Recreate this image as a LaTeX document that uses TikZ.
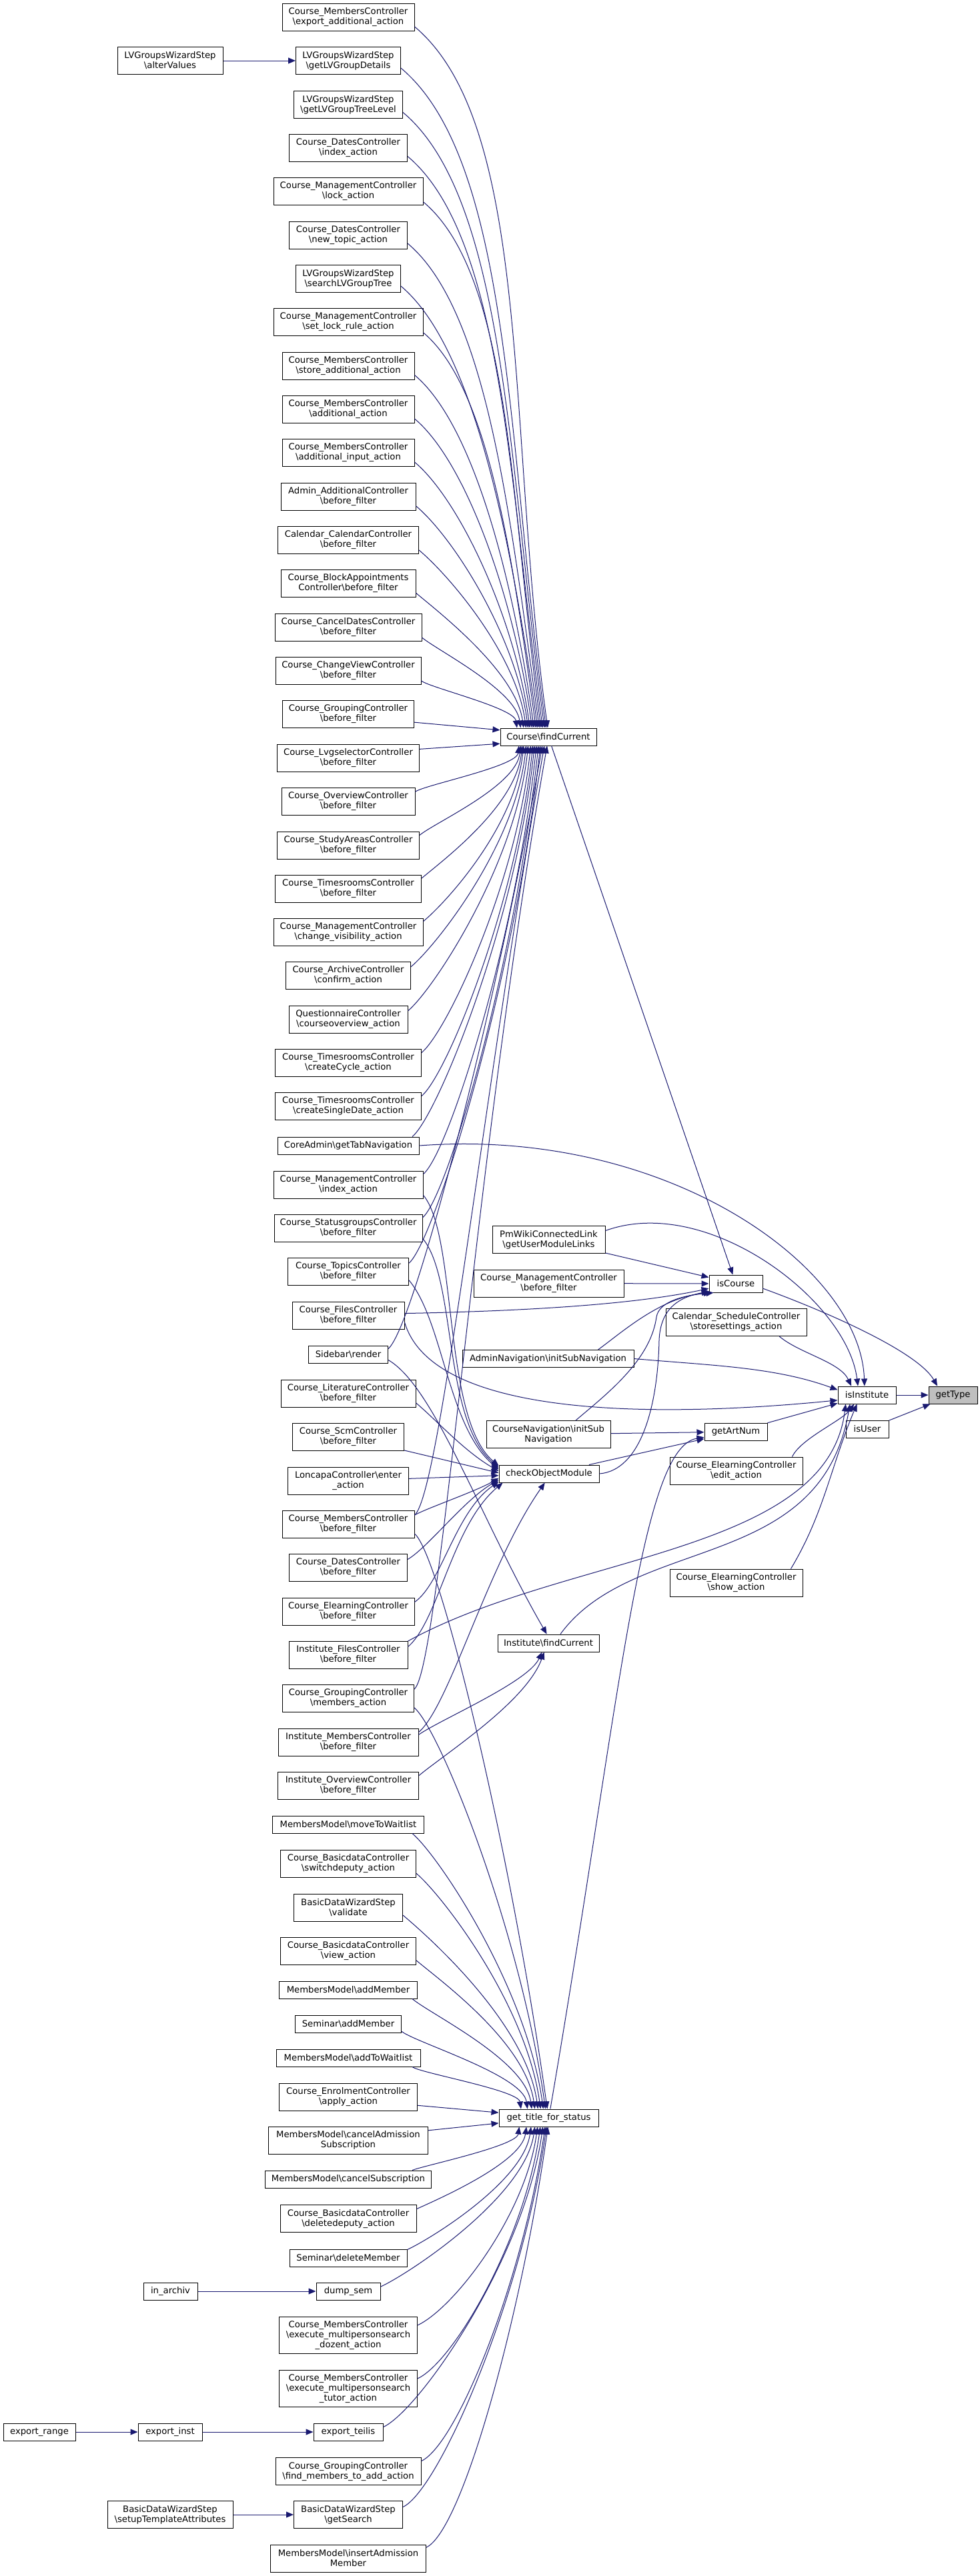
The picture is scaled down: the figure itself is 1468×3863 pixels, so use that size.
\documentclass[tikz,border=0pt]{standalone}
\usepackage{fontspec}
\newfontfamily\djv{DejaVu Sans}
\usetikzlibrary{arrows.meta}
\definecolor{edgec}{HTML}{191970}
\definecolor{hlgray}{HTML}{BFBFBF}
\newcommand{\BSL}{\textbackslash}
\newcommand{\mknode}[6]{\node[box,#5,minimum width=#4pt] (#1) at (#2,#3) {#6};}
% curved connector: start, end, out angle, out length, in angle, in length
\newcommand{\cedge}[6]{\draw[edg] (#1) .. controls +(#3:#4pt) and +(#5:#6pt) .. (#2);}
\begin{document}
\begin{tikzpicture}[x=1pt,y=-1pt,
  box/.style={draw=black,fill=white,line width=1pt,inner sep=0pt,align=center,
    font={\djv\fontsize{13.2}{15}\selectfont},minimum height=26pt},
  l1/.style={},
  l2/.style={minimum height=41pt},
  l3/.style={minimum height=55pt},
  edg/.style={draw=edgec,line width=1pt,-{Triangle[length=11pt,width=9pt]}}]
\useasboundingbox (0,0) rectangle (1468,3863);
% main column
\mknode{n1}{522}{26}{198}{l2}{Course\_MembersController\\\BSL export\_additional\_action}
\mknode{n2}{522}{91}{157}{l2}{LVGroupsWizardStep\\\BSL getLVGroupDetails}
\mknode{n3}{522}{157}{163}{l2}{LVGroupsWizardStep\\\BSL getLVGroupTreeLevel}
\mknode{n4}{522}{222}{177}{l2}{Course\_DatesController\\\BSL index\_action}
\mknode{n5}{522}{287}{224}{l2}{Course\_ManagementController\\\BSL lock\_action}
\mknode{n6}{522}{352.5}{177}{l2}{Course\_DatesController\\\BSL new\_topic\_action}
\mknode{n7}{522}{418}{157}{l2}{LVGroupsWizardStep\\\BSL searchLVGroupTree}
\mknode{n8}{522}{483}{224}{l2}{Course\_ManagementController\\\BSL set\_lock\_rule\_action}
\mknode{n9}{522}{548.5}{198}{l2}{Course\_MembersController\\\BSL store\_additional\_action}
\mknode{n10}{522}{614}{198}{l2}{Course\_MembersController\\\BSL additional\_action}
\mknode{n11}{522}{679}{198}{l2}{Course\_MembersController\\\BSL additional\_input\_action}
\mknode{n12}{522}{744.5}{202}{l2}{Admin\_AdditionalController\\\BSL before\_filter}
\mknode{n13}{522}{810}{211}{l2}{Calendar\_CalendarController\\\BSL before\_filter}
\mknode{n14}{522}{875}{202}{l2}{Course\_BlockAppointments\\Controller\BSL before\_filter}
\mknode{n15}{522}{940.5}{220}{l2}{Course\_CancelDatesController\\\BSL before\_filter}
\mknode{n16}{522}{1005.5}{218}{l2}{Course\_ChangeViewController\\\BSL before\_filter}
\mknode{n17}{522}{1071}{197}{l2}{Course\_GroupingController\\\BSL before\_filter}
\mknode{n18}{522}{1136.5}{213}{l2}{Course\_LvgselectorController\\\BSL before\_filter}
\mknode{n19}{522}{1201.5}{200}{l2}{Course\_OverviewController\\\BSL before\_filter}
\mknode{n20}{522}{1267.5}{213}{l2}{Course\_StudyAreasController\\\BSL before\_filter}
\mknode{n21}{522}{1332.5}{219}{l2}{Course\_TimesroomsController\\\BSL before\_filter}
\mknode{n22}{522}{1397.5}{224}{l2}{Course\_ManagementController\\\BSL change\_visibility\_action}
\mknode{n23}{522}{1463}{187}{l2}{Course\_ArchiveController\\\BSL confirm\_action}
\mknode{n24}{522}{1528.5}{178}{l2}{QuestionnaireController\\\BSL courseoverview\_action}
\mknode{n25}{522}{1594}{219}{l2}{Course\_TimesroomsController\\\BSL createCycle\_action}
\mknode{n26}{522}{1659}{219}{l2}{Course\_TimesroomsController\\\BSL createSingleDate\_action}
\mknode{n27}{522}{1718}{212}{l1}{CoreAdmin\BSL getTabNavigation}
\mknode{n28}{522}{1776.5}{224}{l2}{Course\_ManagementController\\\BSL index\_action}
\mknode{n29}{522}{1841.5}{222}{l2}{Course\_StatusgroupsController\\\BSL before\_filter}
\mknode{n30}{522}{1907}{181}{l2}{Course\_TopicsController\\\BSL before\_filter}
\mknode{n31}{522}{1972.5}{168}{l2}{Course\_FilesController\\\BSL before\_filter}
\mknode{n32}{522}{2031}{119}{l1}{Sidebar\BSL render}
\mknode{n33}{522}{2089.5}{202}{l2}{Course\_LiteratureController\\\BSL before\_filter}
\mknode{n34}{522}{2155}{167}{l2}{Course\_ScmController\\\BSL before\_filter}
\mknode{n35}{522}{2220.5}{181}{l2}{LoncapaController\BSL enter\\\_action}
\mknode{n36}{522}{2286}{198}{l2}{Course\_MembersController\\\BSL before\_filter}
\mknode{n37}{522}{2351}{177}{l2}{Course\_DatesController\\\BSL before\_filter}
\mknode{n38}{522}{2416.5}{198}{l2}{Course\_ElearningController\\\BSL before\_filter}
\mknode{n39}{522}{2482}{178}{l2}{Institute\_FilesController\\\BSL before\_filter}
\mknode{n40}{522}{2547}{197}{l2}{Course\_GroupingController\\\BSL members\_action}
\mknode{n41}{522}{2612.5}{210}{l2}{Institute\_MembersController\\\BSL before\_filter}
\mknode{n42}{522}{2677.5}{211}{l2}{Institute\_OverviewController\\\BSL before\_filter}
\mknode{n43}{522}{2736}{227}{l1}{MembersModel\BSL moveToWaitlist}
\mknode{n44}{522}{2795}{203}{l2}{Course\_BasicdataController\\\BSL switchdeputy\_action}
\mknode{n45}{522}{2860.5}{163}{l2}{BasicDataWizardStep\\\BSL validate}
\mknode{n46}{522}{2925.5}{203}{l2}{Course\_BasicdataController\\\BSL view\_action}
\mknode{n47}{522}{2984}{207}{l1}{MembersModel\BSL addMember}
\mknode{n48}{522}{3035}{159}{l1}{Seminar\BSL addMember}
\mknode{n49}{522}{3086}{216}{l1}{MembersModel\BSL addToWaitlist}
\mknode{n50}{522}{3144.5}{207}{l2}{Course\_EnrolmentController\\\BSL apply\_action}
\mknode{n51}{522}{3209.5}{239}{l2}{MembersModel\BSL cancelAdmission\\Subscription}
\mknode{n52}{522}{3268}{249}{l1}{MembersModel\BSL cancelSubscription}
\mknode{n53}{522}{3327}{204}{l2}{Course\_BasicdataController\\\BSL deletedeputy\_action}
\mknode{n54}{522}{3386}{176}{l1}{Seminar\BSL deleteMember}
\mknode{n55}{522}{3436}{96}{l1}{dump\_sem}
\mknode{n56}{522}{3501.5}{207}{l3}{Course\_MembersController\\\BSL execute\_multipersonsearch\\\_dozent\_action}
\mknode{n57}{522}{3581.5}{207}{l3}{Course\_MembersController\\\BSL execute\_multipersonsearch\\\_tutor\_action}
\mknode{n58}{522}{3647}{104}{l1}{export\_teilis}
\mknode{n59}{522}{3706}{218}{l2}{Course\_GroupingController\\\BSL find\_members\_to\_add\_action}
\mknode{n60}{522}{3771}{163}{l2}{BasicDataWizardStep\\\BSL getSearch}
\mknode{n61}{522}{3836.5}{233}{l2}{MembersModel\BSL insertAdmission\\Member}
% left nodes
\mknode{av}{255}{91}{158}{l2}{LVGroupsWizardStep\\\BSL alterValues}
\mknode{ia}{255.5}{3436}{81}{l1}{in\_archiv}
\mknode{ei}{255}{3647}{96}{l1}{export\_inst}
\mknode{er}{59}{3647}{108}{l1}{export\_range}
\mknode{st}{255}{3771}{188}{l2}{BasicDataWizardStep\\\BSL setupTemplateAttributes}
% middle column
\mknode{cf}{822}{1105}{144}{l1}{Course\BSL findCurrent}
\mknode{pm}{822.5}{1859}{169}{l2}{PmWikiConnectedLink\\\BSL getUserModuleLinks}
\mknode{mb}{822.5}{1924.5}{225}{l2}{Course\_ManagementController\\\BSL before\_filter}
\mknode{an}{821.5}{2037.5}{257}{l1}{AdminNavigation\BSL initSubNavigation}
\mknode{cn}{822}{2151}{186}{l2}{CourseNavigation\BSL initSub\\Navigation}
\mknode{co}{823}{2210}{150}{l1}{checkObjectModule}
\mknode{ifc}{822}{2464}{152}{l1}{Institute\BSL findCurrent}
\mknode{gts}{822.5}{3176}{149}{l1}{get\_title\_for\_status}
% right columns
\mknode{ic}{1103}{1925}{80}{l1}{isCourse}
\mknode{cs}{1103.5}{1983}{211}{l2}{Calendar\_ScheduleController\\\BSL storesettings\_action}
\mknode{ga}{1103}{2147}{94}{l1}{getArtNum}
\mknode{ee}{1103.5}{2205.5}{199}{l2}{Course\_ElearningController\\\BSL edit\_action}
\mknode{es}{1103.5}{2373.5}{199}{l2}{Course\_ElearningController\\\BSL show\_action}
\mknode{ii}{1299.5}{2092}{87}{l1}{isInstitute}
\mknode{iu}{1300}{2143}{64}{l1}{isUser}
\mknode{gt}{1428.5}{2092}{73}{l1,fill=hlgray}{getType}
% ---- edges ----
\draw[edg] (av) -- (n2);
\draw[edg] (ia) -- (n55);
\draw[edg] (er) -- (ei);
\draw[edg] (ei) -- (n58);
\draw[edg] (st) -- (n60);
% into Course\findCurrent from above
\foreach \nn/\aa/\yy in {n1/94/26,n2/104/91,n3/113/157,n4/122/222,n5/129/287,n6/135/352.5,n7/140/418,n8/144/483,n9/148/548.5,n10/151/614,n11/154/679,n12/156/744.5,n13/158/810,n14/160/875,n15/162/940.5,n16/164/1005.5}{
  \pgfmathsetmacro{\rone}{0.22*(1078-\yy)}
  \pgfmathsetmacro{\rtwo}{0.42*(1078-\yy)}
  \cedge{\nn.-8}{cf.\aa}{-40}{\rone}{98}{\rtwo}
}
\draw[edg] (n17.-7) -- (cf.172);
\draw[edg] (n18.7) -- (cf.188);
% into Course\findCurrent from below
\foreach \nn/\aa/\yy in {n19/197/1201.5,n20/198/1267.5,n21/199/1332.5,n22/200/1397.5,n23/202/1463,n24/204/1528.5,n25/207/1594,n26/210/1659,n27/213/1718,n28/217/1776.5,n29/222/1841.5,n30/228/1907}{
  \pgfmathsetmacro{\rone}{min(0.22*(\yy-1132),50)}
  \pgfmathsetmacro{\rtwo}{0.45*(\yy-1132)}
  \cedge{\nn.8}{cf.\aa}{40}{\rone}{-96}{\rtwo}
}
\foreach \nn/\aa/\yy in {n32/236/2031,n36/246/2286,n40/262/2547}{
  \pgfmathsetmacro{\rtwo}{0.45*(\yy-1132)}
  \cedge{\nn.8}{cf.\aa}{40}{50}{-100}{\rtwo}
}
% into checkObjectModule
\foreach \nn/\aa/\yy/\rr in {n28/171/1776.5/110,n29/173/1841.5/110,n30/175/1907/100}{
  \cedge{\nn.-8}{co.\aa}{-50}{80}{140}{\rr}
}
\cedge{n33.-8}{co.177}{-40}{40}{150}{60}
\draw[edg] (n34) -- (co.179);
\draw[edg] (n35) -- (co.182);
\cedge{n36.8}{co.185}{30}{20}{210}{40}
\cedge{n37.8}{co.187}{30}{35}{210}{60}
\cedge{n38.8}{co.189}{35}{50}{215}{80}
\cedge{n39.8}{co.191}{40}{60}{220}{100}
\cedge{n41.8}{co.245}{40}{60}{-125}{150}
% into Institute\findCurrent
\cedge{n32.-8}{ifc.100}{-30}{80}{120}{200}
\cedge{n41.6}{ifc.235}{35}{40}{-115}{50}
\cedge{n42.8}{ifc.245}{40}{50}{-110}{80}
% into get_title_for_status from above
\foreach \nn/\aa/\yy in {n36/99/2286,n40/110/2547,n43/121/2736,n44/132/2795,n45/140/2860.5,n46/147/2925.5,n47/152/2984,n48/157/3035,n49/162/3086}{
  \pgfmathsetmacro{\rone}{min(0.22*(3149-\yy),50)}
  \pgfmathsetmacro{\rtwo}{0.45*(3149-\yy)}
  \cedge{\nn.-8}{gts.\aa}{-40}{\rone}{98}{\rtwo}
}
\draw[edg] (n50.-7) -- (gts.174);
\draw[edg] (n51.7) -- (gts.186);
\foreach \nn/\aa/\yy in {n52/197/3268,n53/202/3327,n54/207/3386,n55/213/3436,n56/219/3501.5,n57/227/3581.5,n58/237/3647,n59/248/3706,n60/256/3771,n61/265/3836.5}{
  \pgfmathsetmacro{\rone}{min(0.22*(\yy-3203),60)}
  \pgfmathsetmacro{\rtwo}{0.45*(\yy-3203)}
  \cedge{\nn.8}{gts.\aa}{25}{\rone}{-98}{\rtwo}
}
% into isCourse
\draw[edg] (cf) -- (ic);
\draw[edg] (pm) -- (ic);
\draw[edg] (mb) -- (ic);
\draw[edg] (n31.2) .. controls (850,1965) and (980,1950) .. (ic.190);
\draw[edg] ([xshift=75pt]an.north) .. controls (930,2000) and (990,1945) .. (ic.200);
\draw[edg] ([xshift=41pt]cn.north) .. controls (910,2090) and (975,2040) .. (984,1975)
   .. controls (988,1950) and (1030,1942) .. (ic.202);
\draw[edg] (co.east) .. controls (960,2205) and (986,2110) .. (988,2010)
   .. controls (990,1960) and (1020,1945) .. (ic.196);
% into getArtNum
\draw[edg] (cn) -- (ga);
\draw[edg] (co) -- (ga);
\draw[edg] (gts.80) .. controls (930,2550) and (960,2170) .. (ga.190);
% into isInstitute
\draw[edg] (ga) -- (ii);
\cedge{an.east}{ii.170}{-5}{120}{160}{100}
\cedge{cs.-18}{ii.150}{-40}{40}{115}{40}
\draw[edg] (n27.east) .. controls (1000,1690) and (1290,1900) .. (ii.105);
\draw[edg] (pm.9) .. controls (1060,1790) and (1270,1950) .. (ii.135);
\draw[edg] (n31.-7) .. controls (650,2130) and (1000,2125) .. (ii.190);
\cedge{[xshift=84pt]ee.north}{ii.215}{65}{30}{235}{30}
\draw[edg] ([xshift=82pt]es.north) .. controls (1235,2270) and (1245,2200) .. (ii.222);
\draw[edg] ([xshift=18pt]ifc.north) .. controls (950,2300) and (1230,2360) .. (ii.208);
\draw[edg] (n39.north east) .. controls (850,2330) and (1240,2330) .. (ii.203);
% into getType
\cedge{ic.-10}{gt.150}{-20}{100}{120}{60}
\draw[edg] (ii) -- (gt);
\draw[edg] (iu) -- (gt);
\end{tikzpicture}
\end{document}
